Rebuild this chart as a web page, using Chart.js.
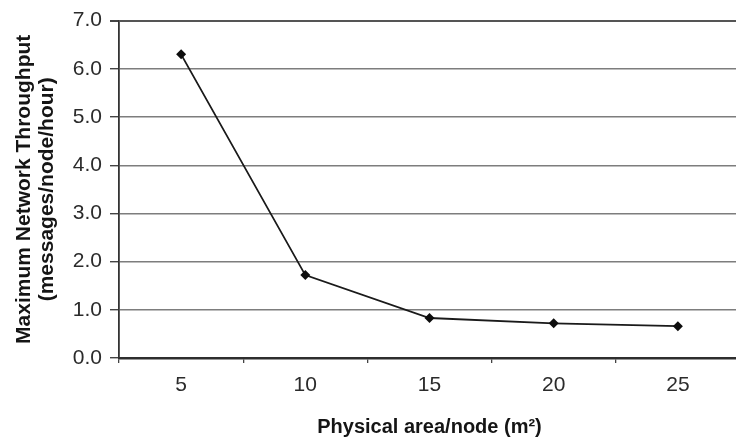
<!DOCTYPE html>
<html>
<head>
<meta charset="utf-8">
<script src="https://cdn.jsdelivr.net/npm/chart.js@4/dist/chart.umd.min.js"></script>
<style>
  html, body { margin: 0; padding: 0; background: #fff; overflow: hidden; }
  #wrap { width: 745px; height: 442px; }
</style>
</head>
<body>
<div id="wrap"><canvas id="c" width="745" height="442"></canvas></div>
<script>
// Physical area per node (m²)
const areas = ['5', '10', '15', '20', '25'];
// Maximum network throughput (messages/node/hour)
const throughput = [6.30, 1.72, 0.83, 0.72, 0.66];
const yTitleLines = ['Maximum Network Throughput', '(messages/node/hour)'];
const xTitle = 'Physical area/node (m\u00B2)';

const FONT = "'Liberation Sans', Arial, Helvetica, sans-serif";

new Chart(document.getElementById('c'), {
  type: 'line',
  data: {
    labels: areas,
    datasets: [{
      data: throughput,
      borderColor: '#1a1a1a',
      borderWidth: 1.8,
      backgroundColor: '#0d0d0d',
      pointStyle: 'rectRot',
      pointRadius: 5,
      pointBorderWidth: 0,
      tension: 0,
      fill: false
    }]
  },
  options: {
    responsive: false,
    animation: false,
    layout: { padding: { top: 18, left: 0, right: 0, bottom: 0 } },
    plugins: { legend: { display: false }, tooltip: { enabled: false } },
    scales: {
      x: {
        offset: true,
        grid: {
          offset: true,
          drawOnChartArea: false,
          drawTicks: true,
          tickLength: 5,
          tickColor: '#444',
          lineWidth: 1.3
        },
        border: { display: true, color: '#2e2e2e', width: 2.4 },
        ticks: {
          color: '#2b2b2b',
          font: { family: FONT, size: 21 },
          padding: 10,
          maxRotation: 0
        },
        title: {
          display: true,
          text: xTitle,
          color: '#151515',
          font: { family: FONT, size: 20, weight: 'bold' },
          padding: { top: 0, bottom: 3 }
        },
        afterFit: s => { s.height = 84; }
      },
      y: {
        min: 0,
        max: 7,
        grid: {
          color: (ctx) => ctx.tick && ctx.tick.value === 7 ? '#555' : '#7d7d7d',
          lineWidth: (ctx) => ctx.tick && ctx.tick.value === 7 ? 2 : 1.4,
          drawTicks: true,
          tickLength: 9,
          tickColor: '#444'
        },
        border: { display: true, color: '#333', width: 1.8 },
        ticks: {
          stepSize: 1,
          color: '#2b2b2b',
          font: { family: FONT, size: 21 },
          padding: 8,
          callback: v => Number(v).toFixed(1)
        },
        title: {
          display: true,
          text: yTitleLines,
          color: '#151515',
          font: { family: FONT, size: 21, weight: 'bold', lineHeight: 1.1 },
          padding: { top: 13, bottom: 0 }
        },
        afterFit: s => { s.width = 119; }
      }
    }
  }
});
</script>
</body>
</html>
